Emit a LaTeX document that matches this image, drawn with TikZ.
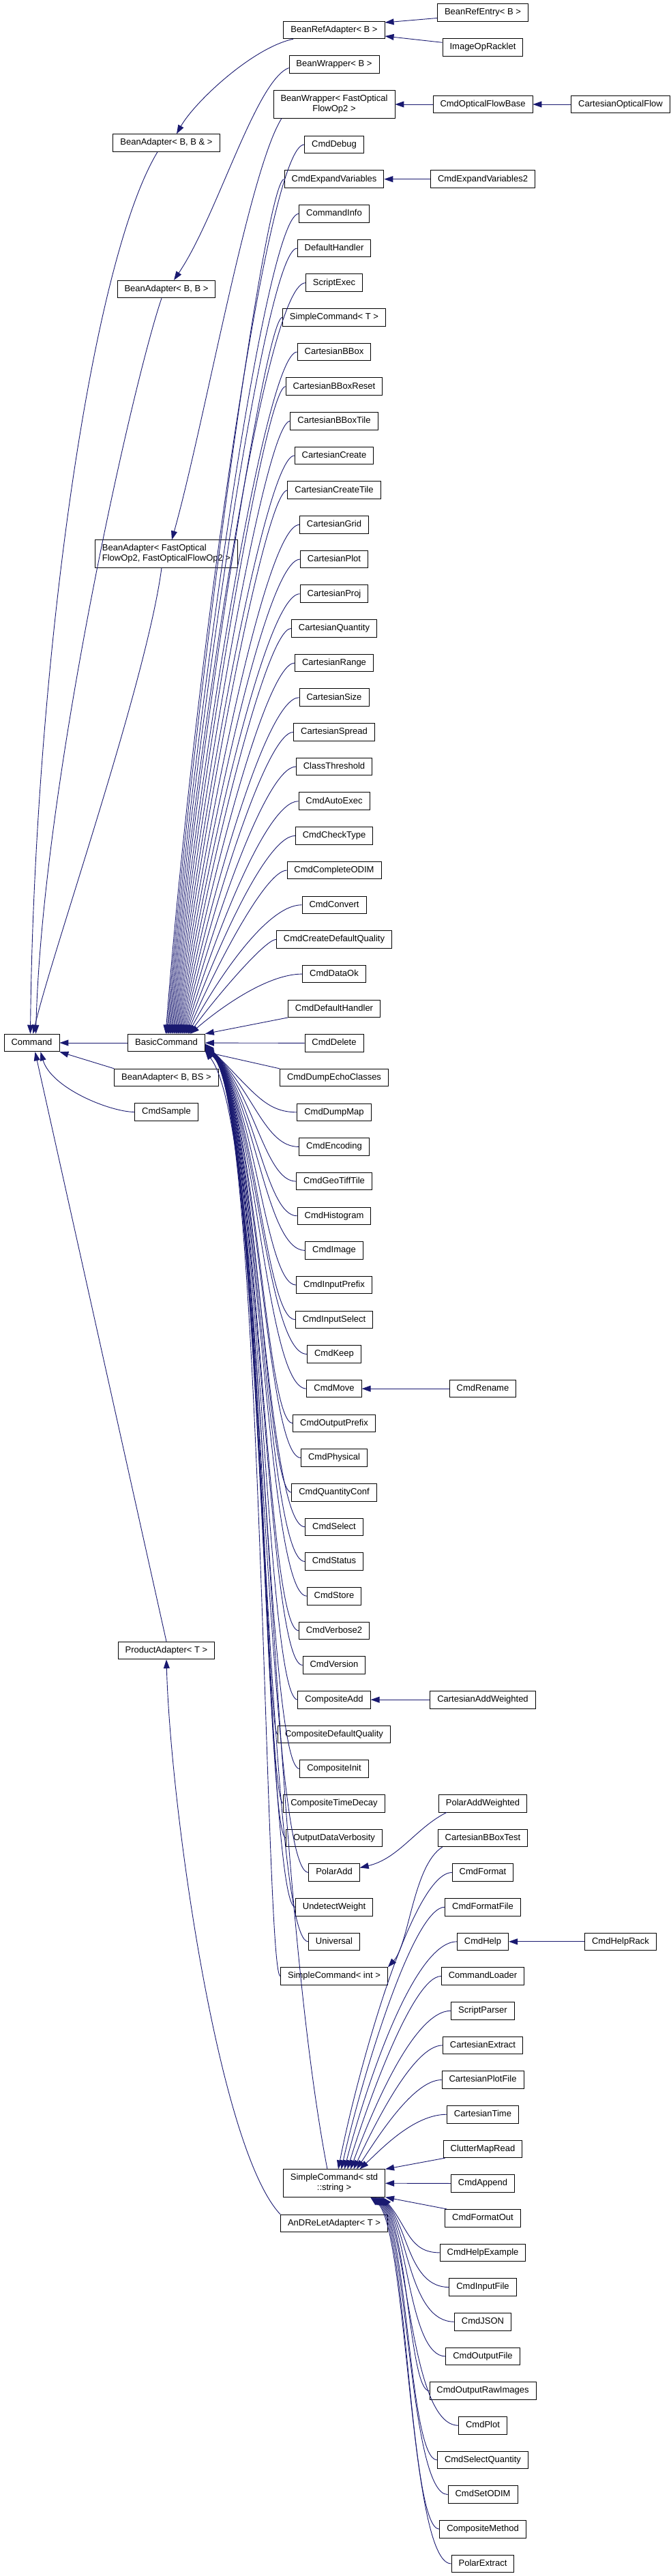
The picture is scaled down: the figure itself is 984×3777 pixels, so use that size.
\documentclass[tikz,border=0pt]{standalone}
\usepackage{fontspec}
\setmainfont{Liberation Sans}
\usetikzlibrary{arrows.meta}
\definecolor{edgenavy}{HTML}{191970}
\newcommand{\clsfont}{\fontsize{13}{15}\selectfont}
\tikzset{
  box/.style={rectangle, draw=black, line width=0.9pt, fill=white, font=\clsfont, inner xsep=10.5pt},
  cls/.style={box, text height=9.5pt, text depth=2.8pt, inner ysep=6.65pt},
  cls2/.style={box, inner ysep=5.15pt},
  inh/.style={-{Triangle[length=13pt, width=9pt]}, line width=0.9pt, edgenavy},
}

\begin{document}
\begin{tikzpicture}[x=1pt, y=-1pt]
\useasboundingbox (0,0) rectangle (984,3777);
% left part
\node[cls] (Command) at (46.5,1529) {Command};
\node[cls] (BasicCommand) at (244,1529) {BasicCommand};
\node[cls] (BeanAdapterBBr) at (244,209.5) {BeanAdapter< B, B \& >};
\node[cls] (BeanAdapterBB) at (244,424) {BeanAdapter< B, B >};
\node[cls2] (BeanAdapterFast) at (244,812) {\begin{tabular}{@{}l@{}}BeanAdapter< FastOptical\\FlowOp2, FastOpticalFlowOp2 >\end{tabular}};
\node[cls] (BeanAdapterBBS) at (244,1580) {BeanAdapter< B, BS >};
\node[cls] (CmdSample) at (244,1630.5) {CmdSample};
\node[cls] (ProductAdapter) at (244,2420) {ProductAdapter< T >};
% middle column
\node[cls] (BeanRefAdapter) at (490,44) {BeanRefAdapter< B >};
\node[cls] (BeanWrapperB) at (490,94.5) {BeanWrapper< B >};
\node[cls2] (BeanWrapperFast) at (490,153) {\begin{tabular}{@{}c@{}}BeanWrapper< FastOptical\\FlowOp2 >\end{tabular}};
\foreach \n/\t [count=\k] in {CmdDebug, CmdExpandVariables, CommandInfo, DefaultHandler, ScriptExec,
    SimpleCommandT/SimpleCommand< T >, CartesianBBox, CartesianBBoxReset, CartesianBBoxTile,
    CartesianCreate, CartesianCreateTile, CartesianGrid, CartesianPlot, CartesianProj,
    CartesianQuantity, CartesianRange, CartesianSize, CartesianSpread, ClassThreshold,
    CmdAutoExec, CmdCheckType, CmdCompleteODIM, CmdConvert, CmdCreateDefaultQuality,
    CmdDataOk, CmdDefaultHandler, CmdDelete, CmdDumpEchoClasses, CmdDumpMap, CmdEncoding,
    CmdGeoTiffTile, CmdHistogram, CmdImage, CmdInputPrefix, CmdInputSelect, CmdKeep,
    CmdMove, CmdOutputPrefix, CmdPhysical, CmdQuantityConf, CmdSelect, CmdStatus, CmdStore,
    CmdVerbose2, CmdVersion, CompositeAdd, CompositeDefaultQuality, CompositeInit,
    CompositeTimeDecay, OutputDataVerbosity, PolarAdd, UndetectWeight, Universal,
    SimpleCommandInt/SimpleCommand< int >}
  \node[cls] (\n) at (490,{212+(\k-1)*50.67}) {\t};
\node[cls2] (SimpleCommandStr) at (490,3201) {\begin{tabular}{@{}c@{}}SimpleCommand< std\\::string >\end{tabular}};
\node[cls] (AnDReLetAdapter) at (490,3260) {AnDReLetAdapter< T >};
% right columns
\node[cls] (BeanRefEntry) at (708,18.5) {BeanRefEntry< B >};
\node[cls] (ImageOpRacklet) at (708,69.3) {ImageOpRacklet};
\node[cls] (CmdOpticalFlowBase) at (BeanWrapperFast -| 708,0) {CmdOpticalFlowBase};
\node[cls] (CartesianOpticalFlow) at (BeanWrapperFast -| 910,0) {CartesianOpticalFlow};
\node[cls] (CmdExpandVariables2) at (CmdExpandVariables -| 708,0) {CmdExpandVariables2};
\node[cls] (CmdRename) at (CmdMove -| 708,0) {CmdRename};
\node[cls] (CartesianAddWeighted) at (CompositeAdd -| 708,0) {CartesianAddWeighted};
\foreach \n [count=\k from 49] in {PolarAddWeighted, CartesianBBoxTest, CmdFormat, CmdFormatFile,
    CmdHelp, CommandLoader, ScriptParser, CartesianExtract, CartesianPlotFile, CartesianTime,
    ClutterMapRead, CmdAppend, CmdFormatOut, CmdHelpExample, CmdInputFile, CmdJSON,
    CmdOutputFile, CmdOutputRawImages, CmdPlot, CmdSelectQuantity, CmdSetODIM,
    CompositeMethod, PolarExtract}
  \node[cls] (\n) at (708,{212+(\k-1)*50.67}) {\n};
\node[cls] (CmdHelpRack) at (CmdHelp -| 910,0) {CmdHelpRack};

% into Command
\draw[inh] (BasicCommand) -- (Command);
\draw[inh] ([xshift=-13pt]BeanAdapterBBr.south) .. controls (130,390) and (50,1000) .. ([xshift=-2pt]Command.north);
\draw[inh] ([xshift=-7pt]BeanAdapterBB.south) .. controls (195,560) and (62,1150) .. ([xshift=6pt]Command.north);
\draw[inh] ([xshift=-7pt]BeanAdapterFast.south) .. controls (215,1000) and (75,1400) .. ([xshift=2pt]Command.north);
\draw[inh] (BeanAdapterBBS.north west) -- (Command.south east);
\draw[inh] (CmdSample.west) .. controls (160,1630) and (75,1595) .. ([xshift=13pt]Command.south);
\draw[inh] (ProductAdapter.north) -- ([xshift=5pt]Command.south);
\draw[inh] (AnDReLetAdapter.north west) .. controls (320,3150) and (250,2650) .. (ProductAdapter.south);
% bean adapters
\draw[inh] ([xshift=-60pt]BeanRefAdapter.south) .. controls (370,70) and (285,150) .. ([xshift=15pt]BeanAdapterBBr.north);
\draw[inh] ([yshift=-5pt]BeanWrapperB.west) .. controls (375,118) and (318,318) .. ([xshift=11pt]BeanAdapterBB.north);
\draw[inh] ([xshift=-77pt]BeanWrapperFast.south) .. controls (365,250) and (300,620) .. ([xshift=8pt]BeanAdapterFast.north);
\draw[inh] ([yshift=-8pt]BeanRefEntry.west) -- ([yshift=11pt]BeanRefAdapter.east);
\draw[inh] ([yshift=7pt]ImageOpRacklet.west) -- ([yshift=-9pt]BeanRefAdapter.east);
\draw[inh] (CmdOpticalFlowBase) -- (BeanWrapperFast);
\draw[inh] (CartesianOpticalFlow) -- (CmdOpticalFlowBase);
% into BasicCommand
\foreach \n [count=\k] in {CmdDebug, CmdExpandVariables, CommandInfo, DefaultHandler, ScriptExec,
    SimpleCommandT, CartesianBBox, CartesianBBoxReset, CartesianBBoxTile, CartesianCreate,
    CartesianCreateTile, CartesianGrid, CartesianPlot, CartesianProj, CartesianQuantity,
    CartesianRange, CartesianSize, CartesianSpread, ClassThreshold, CmdAutoExec, CmdCheckType,
    CmdCompleteODIM, CmdConvert, CmdCreateDefaultQuality, CmdDataOk}{
  \pgfmathsetmacro\ys{212+(\k-1)*50.67}
  \pgfmathsetmacro\dx{-1+1.5*(\k-1)}
  \draw[inh] (\n.west) .. controls (388,\ys) and ({279+\dx},{1516-0.35*(1516-\ys)}) .. ([xshift=\dx pt]BasicCommand.north);
}
\draw[inh] (CmdDefaultHandler.south west) -- (BasicCommand.north east);
\draw[inh] (CmdDelete) -- (BasicCommand);
\draw[inh] (CmdDumpEchoClasses.north west) -- (BasicCommand.south east);
\foreach \n [count=\k from 29] in {CmdDumpMap, CmdEncoding, CmdGeoTiffTile, CmdHistogram, CmdImage,
    CmdInputPrefix, CmdInputSelect, CmdKeep, CmdMove, CmdOutputPrefix, CmdPhysical,
    CmdQuantityConf, CmdSelect, CmdStatus, CmdStore, CmdVerbose2, CmdVersion, CompositeAdd,
    CompositeDefaultQuality, CompositeInit, CompositeTimeDecay, OutputDataVerbosity, PolarAdd,
    UndetectWeight, Universal, SimpleCommandInt}{
  \pgfmathsetmacro\ys{212+(\k-1)*50.67}
  \pgfmathsetmacro\dy{-1.5-0.42*(\k-29)}
  \draw[inh] (\n.west) .. controls (388,\ys) and ({372+0.5*(\k-29)},1600) .. ([yshift=\dy pt]BasicCommand.east);
}
\draw[inh] ([xshift=-10pt]SimpleCommandStr.north) .. controls (388,2700) and (392,1660) .. ([yshift=-12pt]BasicCommand.east);
% third level
\draw[inh] (CmdExpandVariables2) -- (CmdExpandVariables);
\draw[inh] (CmdRename) -- (CmdMove);
\draw[inh] (CartesianAddWeighted) -- (CompositeAdd);
\draw[inh] ([xshift=12pt]PolarAddWeighted.south west) .. controls (610,2680) and (585,2725) .. ([yshift=7pt]PolarAdd.east);
\draw[inh] ([xshift=7pt]CartesianBBoxTest.south west) .. controls (606,2735) and (600,2850) .. (SimpleCommandInt.north east);
\foreach \n [count=\k from 51] in {CmdFormat, CmdFormatFile, CmdHelp, CommandLoader, ScriptParser,
    CartesianExtract, CartesianPlotFile, CartesianTime}{
  \pgfmathsetmacro\ys{212+(\k-1)*50.67}
  \pgfmathsetmacro\dx{6+4.5*(\k-51)}
  \draw[inh] (\n.west) .. controls (606,\ys) and ({520+\dx},{3181-0.35*(3181-\ys)}) .. ([xshift=\dx pt]SimpleCommandStr.north);
}
\draw[inh] ([xshift=3pt]ClutterMapRead.south west) -- (SimpleCommandStr.north east);
\draw[inh] (CmdAppend) -- (SimpleCommandStr);
\draw[inh] ([xshift=3pt]CmdFormatOut.north west) -- (SimpleCommandStr.south east);
\foreach \n [count=\k from 62] in {CmdHelpExample, CmdInputFile, CmdJSON, CmdOutputFile,
    CmdOutputRawImages, CmdPlot, CmdSelectQuantity, CmdSetODIM, CompositeMethod, PolarExtract}{
  \pgfmathsetmacro\ys{212+(\k-1)*50.67}
  \pgfmathsetmacro\dx{-4-2*(\k-62)}
  \draw[inh] (\n.west) .. controls (600,\ys) and (598,3265) .. ([xshift=\dx pt]SimpleCommandStr.south east);
}
\draw[inh] (CmdHelpRack) -- (CmdHelp);
\end{tikzpicture}
\end{document}
